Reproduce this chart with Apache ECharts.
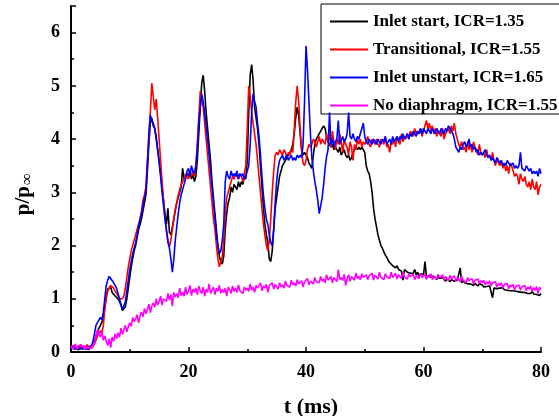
<!DOCTYPE html>
<html><head><meta charset="utf-8">
<script src="https://cdn.jsdelivr.net/npm/echarts@6/dist/echarts.min.js"></script>
<style>html,body{margin:0;padding:0;background:#fff}#c{width:559px;height:416px}</style>
</head><body><div id="c"></div>
<script>
const DT = 0.25;
const seriesNames = ['Inlet start, ICR=1.35', 'Transitional, ICR=1.55', 'Inlet unstart, ICR=1.65', 'No diaphragm, ICR=1.55'];
const seriesColors = ['#000000', '#ff0000', '#0000ff', '#ff00ff'];
const xTickLabels = ['0', '20', '40', '60', '80'];
const yTickLabels = ['0', '1', '2', '3', '4', '5', '6'];

const inletStart = [
0.08,0.05,0.1,0.06,0.09,0.04,0.1,0.07,0.05,0.09,0.06,0.1,0.04,0.08,0.06,0.12,
0.2,0.3,0.38,0.45, 0.5,0.48,0.62,0.85, 1.05,1.18,1.2,1.22, 1.12,1.15,1.05,1.08,
1.0,0.95,0.88,0.78, 0.75,0.85,1.0,1.2, 1.4,1.6,1.75,1.9, 2.0,2.15,2.3,2.4,
2.5,2.65,2.8,2.95, 3.4,3.9,4.3,4.4, 4.25,4.2,4.0,3.8, 3.6,3.35,3.1,2.85,
2.6,2.4,2.7,2.25, 2.2,2.35,2.5,2.65, 2.8,2.9,3.0,3.1, 3.45,3.25,3.3,3.35,
3.3,3.4,3.25,3.35, 3.2,3.3,3.6,4.1, 4.6,5.05,5.2,4.9, 4.5,4.2,3.9,3.6,
3.2,2.9,2.6,2.3, 2.0,1.8,1.7,1.65, 1.8,2.3,2.6,2.8, 2.9,3.1,3.0,3.15,
3.1,3.05,3.2,3.1, 3.2,3.15,3.3,3.25, 3.6,4.5,5.2,5.4, 5.1,4.6,4.4,4.2,
3.9,3.5,3.1,2.7, 2.4,2.2,2.05,1.75, 1.7,1.9,2.3,2.7, 2.9,3.1,3.3,3.4,
3.5,3.55,3.6,3.65, 3.7,3.75,3.8,3.9, 4.1,4.4,4.6,4.45, 4.1,3.8,3.7,3.75,
3.7,3.65,3.55,3.5, 3.45,3.7,3.9,4.0, 4.05,4.1,4.15,4.2, 4.25,4.2,4.05,3.95,
3.9,3.85,3.9,3.8, 3.85,3.8,3.75,3.85, 3.7,3.75,3.8,3.7, 3.65,3.7,3.6,3.65,
3.75,3.8,3.85,3.8, 3.85,3.8,3.85,3.8, 3.75,3.5,3.4,3.35, 3.2,3.0,2.7,2.5,
2.35,2.2,2.1,2.0, 1.95,1.88,1.82,1.78, 1.72,1.68,1.65,1.62, 1.6,1.58,1.62,1.55,
1.58,1.52,1.35,1.55, 1.53,1.5,1.52,1.48, 1.5,1.48,1.55,1.45, 1.5,1.42,1.47,1.45,
1.45,1.7,1.42,1.4, 1.44,1.4,1.38,1.43, 1.4,1.36,1.42,1.38, 1.35,1.4,1.37,1.33,
1.38,1.35,1.32,1.36, 1.35,1.33,1.3,1.35, 1.32,1.58,1.3,1.34, 1.3,1.32,1.28,1.3,
1.28,1.3,1.25,1.29, 1.27,1.24,1.28,1.25, 1.26,1.22,1.25,1.23, 1.2,1.24,1.22,1.02,
1.2,1.23,1.19,1.22, 1.2,1.18,1.21,1.17, 1.2,1.16,1.19,1.15, 1.18,1.15,1.17,1.14,
1.16,1.13,1.16,1.12, 1.15,1.12,1.14,1.1, 1.13,1.1,1.14,1.09, 1.12,1.08,1.11,1.06,
1.1];

const transitional = [
0.1,0.07,0.12,0.08,0.11,0.06,0.13,0.09,0.08,0.12,0.07,0.14,0.09,0.1,0.07,0.11,
0.15,0.22,0.3,0.35, 0.4,0.35,0.5,0.8, 1.0,1.15,1.2,1.25, 1.25,1.2,1.15,1.1,
1.05,1.0,0.97,1.0, 1.05,1.2,1.4,1.6, 1.75,1.9,2.0,2.1, 2.2,2.3,2.4,2.5,
2.65,2.85,2.95,3.1, 3.6,4.0,4.5,5.05, 4.8,4.55,4.75,4.4, 4.0,3.6,3.2,2.85,
2.5,2.25,2.05,1.98, 2.1,2.3,2.5,2.7, 2.8,2.95,3.05,3.15, 3.2,3.25,3.35,3.3,
3.25,3.35,3.3,3.4, 3.3,3.5,3.9,4.4, 4.9,4.75,4.6,4.3, 4.0,3.7,3.4,3.1,
2.8,2.5,2.3,2.0, 1.75,1.6,1.7,1.8, 2.1,2.6,2.9,3.0, 3.1,3.2,3.3,3.25,
3.35,3.3,3.25,3.35, 3.3,3.2,3.35,3.5, 4.2,5.0,4.8,4.5, 4.3,4.1,3.9,3.6,
3.3,3.0,2.7,2.4, 2.2,2.0,1.9,2.1, 2.5,3.0,3.4,3.7, 3.75,3.7,3.8,3.75,
3.7,3.8,3.75,3.65, 3.75,3.7,3.8,3.75, 4.2,4.7,5.0,4.7, 4.2,3.8,3.55,3.5,
3.6,3.8,3.9,3.85, 3.9,4.0,3.95,3.85, 3.95,4.05,3.9,4.0, 4.0,3.9,4.1,3.95,
4.1,3.85,4.15,3.95, 3.8,4.0,3.9,4.1, 3.95,3.75,4.0,3.9, 3.85,3.7,3.95,3.85,
3.6,3.9,3.8,4.0, 3.9,4.0,3.85,3.95, 3.9,3.95,4.05,3.9, 3.85,4.0,3.95,3.9,
4.0,3.9,3.85,4.0, 3.95,3.9,4.05,3.85, 3.9,3.75,3.95,3.9, 4.0,3.85,4.05,3.95,
3.9,4.1,3.95,4.05, 4.0,4.1,4.0,4.15, 4.1,4.05,4.2,4.1, 4.15,4.1,4.2,4.05,
4.15,4.25,4.35,4.2, 4.3,4.15,4.25,4.1, 4.2,4.05,4.15,4.1, 4.05,4.2,4.0,4.1,
4.15,4.2,4.1,4.25, 4.15,4.3,4.1,4.0, 3.9,3.85,3.95,3.8, 3.85,3.75,3.95,3.8,
3.9,3.75,3.95,3.85, 3.8,3.7,3.9,3.75, 3.7,3.75,3.65,3.8, 3.65,3.7,3.6,3.75,
3.6,3.5,3.65,3.55, 3.5,3.6,3.45,3.55, 3.4,3.5,3.35,3.55, 3.5,3.4,3.3,3.35,
3.3,3.15,3.35,3.25, 3.2,3.3,3.15,3.1, 3.2,3.05,3.25,3.1, 3.05,3.2,2.95,3.1,
3.15];

const inletUnstart = [
0.06,0.1,0.05,0.09,0.07,0.11,0.05,0.08,0.1,0.06,0.09,0.05,0.1,0.07,0.12,0.2,
0.35,0.5,0.55,0.6, 0.65,0.6,0.75,1.0, 1.25,1.35,1.42,1.38, 1.35,1.3,1.25,1.2,
1.1,1.0,0.9,0.8, 0.78,0.95,1.15,1.35, 1.55,1.7,1.85,1.95, 2.05,2.2,2.35,2.5,
2.6,2.75,2.9,3.0, 3.5,4.1,4.45,4.35, 4.3,4.2,4.05,3.8, 3.55,3.3,3.0,2.75,
2.5,2.3,2.1,1.95, 1.75,1.5,1.75,2.1, 2.35,2.6,2.8,2.95, 3.05,3.15,3.25,3.4,
3.45,3.3,3.5,3.4, 3.35,3.5,3.8,4.3, 4.6,4.85,4.7,4.5, 4.25,4.0,3.7,3.4,
3.1,2.8,2.5,2.2, 2.0,1.85,1.9,2.1, 2.4,3.2,3.4,3.3, 3.25,3.4,3.3,3.35,
3.3,3.4,3.25,3.35, 3.3,3.35,3.25,3.3, 3.4,3.5,3.9,4.5, 4.85,4.7,4.6,4.3,
4.05,3.7,3.3,2.95, 2.7,2.5,2.4,2.2, 2.05,2.0,2.3,2.8, 3.2,3.45,3.6,3.65,
3.7,3.6,3.65,3.7, 3.6,3.65,3.7,3.6, 3.65,3.6,3.7,3.65, 3.7,3.65,3.9,4.7,
5.75,5.3,4.7,4.1, 3.65,3.4,3.2,3.05, 2.85,2.6,2.6,2.9, 3.15,3.45,3.67,3.8,
4.5,3.9,4.0,3.85, 3.95,4.0,4.35,3.9, 3.9,4.05,3.95,4.0, 4.1,4.5,4.05,4.0,
4.1,4.0,3.95,4.05, 4.0,4.1,4.2,4.3, 4.05,3.95,3.9,4.0, 3.95,3.9,4.0,3.95,
3.9,4.0,3.95,3.9, 4.0,3.95,4.05,3.9, 3.95,4.0,3.9,4.05, 3.95,4.0,4.05,3.95,
4.05,4.0,4.1,4.0, 4.05,4.1,4.0,4.1, 4.05,4.15,4.1,4.05, 4.15,4.1,4.2,4.1,
4.2,4.15,4.1,4.2, 4.15,4.1,4.2,4.15, 4.1,4.2,4.15,4.1, 4.2,4.15,4.1,4.2,
4.15,4.25,4.2,4.15, 4.1,4.0,3.85,3.8, 3.75,3.85,3.8,3.9, 3.95,3.85,3.9,4.0,
3.85,3.9,3.8,3.85, 3.75,3.8,3.7,3.75, 3.7,3.75,3.8,3.7, 3.65,3.7,3.6,3.65,
3.6,3.55,3.65,3.6, 3.55,3.6,3.5,3.55, 3.5,3.6,3.55,3.5, 3.5,3.55,3.45,3.5,
3.45,3.5,3.75,3.45, 3.45,3.4,3.5,3.45, 3.4,3.45,3.35,3.4, 3.35,3.4,3.3,3.45,
3.35];

const noDiaphragm = [
0.12,0.06,0.1,0.15,0.05,0.11,0.08,0.14,0.07,0.12,0.05,0.1,0.13,0.06,0.09,0.12,
0.18,0.3,0.42,0.33, 0.28,0.38,0.22,0.3, 0.2,0.12,0.25,0.08, 0.28,0.2,0.34,0.25,
0.36,0.28,0.45,0.33, 0.42,0.5,0.38,0.47, 0.55,0.48,0.65,0.57, 0.62,0.7,0.55,0.68,
0.75,0.66,0.82,0.72, 0.8,0.9,0.74,0.86, 0.92,0.84,1.0,0.88, 0.95,1.05,0.88,1.0,
1.02,0.95,1.1,0.98, 1.08,0.86,1.12,1.03, 1.1,1.02,1.2,1.06, 1.12,1.05,1.22,1.08,
1.15,1.25,1.06,1.18, 1.12,1.2,1.08,1.24, 1.15,1.1,1.22,1.05, 1.18,1.12,1.28,1.1,
1.16,1.22,1.08,1.2, 1.14,1.25,1.1,1.18, 1.12,1.2,1.05,1.22, 1.17,1.1,1.24,1.14,
1.2,1.12,1.26,1.15, 1.18,1.1,1.22,1.16, 1.2,1.14,1.28,1.16, 1.22,1.12,1.25,1.2,
1.18,1.3,1.15,1.24, 1.2,1.27,1.12,1.25, 1.22,1.3,1.18,1.27, 1.24,1.18,1.3,1.22,
1.26,1.2,1.33,1.25, 1.28,1.22,1.35,1.26, 1.3,1.24,1.36,1.28, 1.27,1.34,1.22,1.32,
1.3,1.38,1.26,1.33, 1.35,1.28,1.4,1.32, 1.34,1.3,1.42,1.33, 1.37,1.3,1.45,1.35,
1.36,1.42,1.3,1.4, 1.38,1.32,1.55,1.36, 1.4,1.34,1.46,1.25, 1.38,1.45,1.33,1.42,
1.4,1.35,1.48,1.38, 1.42,1.36,1.47,1.4, 1.38,1.45,1.36,1.43, 1.4,1.48,1.35,1.44,
1.42,1.37,1.5,1.4, 1.43,1.36,1.47,1.41, 1.44,1.38,1.5,1.4, 1.42,1.48,1.37,1.45,
1.43,1.38,1.5,1.41, 1.44,1.37,1.47,1.42, 1.4,1.46,1.36,1.43, 1.42,1.38,1.48,1.4,
1.41,1.46,1.36,1.44, 1.4,1.47,1.36,1.42, 1.43,1.37,1.46,1.4, 1.38,1.45,1.35,1.42,
1.4,1.34,1.44,1.38, 1.37,1.43,1.33,1.4, 1.38,1.32,1.42,1.35, 1.36,1.3,1.4,1.34,
1.33,1.38,1.28,1.35, 1.32,1.37,1.28,1.34, 1.3,1.35,1.26,1.32, 1.28,1.34,1.24,1.3,
1.27,1.32,1.22,1.29, 1.25,1.3,1.2,1.27, 1.24,1.29,1.19,1.26, 1.22,1.27,1.17,1.24,
1.21,1.26,1.16,1.23, 1.2,1.25,1.15,1.22, 1.18,1.24,1.13,1.21, 1.16,1.23,1.1,1.22,
1.17];

const allValues = [inletStart, transitional, inletUnstart, noDiaphragm];
const toPairs = arr => arr.map((v, i) => [i * DT, v]);

const FONT = '"Liberation Serif", "Times New Roman", serif';
const chart = echarts.init(document.getElementById('c'), null, { renderer: 'canvas' });
const axisCommon = {
  axisLine: { show: true, lineStyle: { color: '#000', width: 2 } },
  axisTick: { show: true, inside: true, length: 5, lineStyle: { color: '#000', width: 1.5 } },
  minorTick: { show: true, splitNumber: 2, length: 3, lineStyle: { color: '#000', width: 1.5 } },
  splitLine: { show: false },
  axisLabel: { color: '#000', fontFamily: FONT, fontWeight: 'bold', fontSize: 18, margin: 11 }
};
chart.setOption({
  animation: false,
  backgroundColor: '#fff',
  grid: { left: 71, right: 18, top: 6, bottom: 64, outerBoundsMode: 'none', containLabel: false },
  legend: {
    orient: 'vertical', left: 321, top: 4,
    borderColor: '#000', borderWidth: 1,
    padding: [9, 12, 0, 9], itemGap: 11,
    itemWidth: 38, itemHeight: 2, icon: 'rect',
    textStyle: { color: '#000', fontFamily: FONT, fontWeight: 'bold', fontSize: 17, lineHeight: 14 },
    data: seriesNames
  },
  xAxis: Object.assign({}, axisCommon, {
    type: 'value', min: 0, max: 80, interval: 20,
    axisLabel: Object.assign({}, axisCommon.axisLabel, { formatter: v => xTickLabels[v / 20] }),
    name: 't (ms)', nameLocation: 'middle', nameGap: 44,
    nameTextStyle: { color: '#000', fontFamily: FONT, fontWeight: 'bold', fontSize: 22, padding: [0, 0, 0, 10] }
  }),
  yAxis: Object.assign({}, axisCommon, {
    type: 'value', min: 0, max: 6.5, interval: 1,
    axisLabel: Object.assign({}, axisCommon.axisLabel, { showMaxLabel: false, formatter: v => (yTickLabels[v] !== undefined ? yTickLabels[v] : '') }),
    name: '{a|p/p}{b|∞}', nameLocation: 'middle', nameGap: 35, nameRotate: 90,
    nameTextStyle: {
      color: '#000',
      rich: {
        a: { fontFamily: FONT, fontWeight: 'bold', fontSize: 21, color: '#000', lineHeight: 24 },
        b: { fontFamily: FONT, fontWeight: 'normal', fontSize: 17, color: '#000', verticalAlign: 'bottom', lineHeight: 24, padding: [6, 30, 0, 1] }
      }
    }
  }),
  series: allValues.map((vals, k) => ({
    name: seriesNames[k], type: 'line', data: toPairs(vals),
    showSymbol: false, symbol: 'none', smooth: false,
    lineStyle: { color: seriesColors[k], width: 1.6 },
    itemStyle: { color: seriesColors[k] },
    z: 2 + k
  }))
});
</script></body></html>
